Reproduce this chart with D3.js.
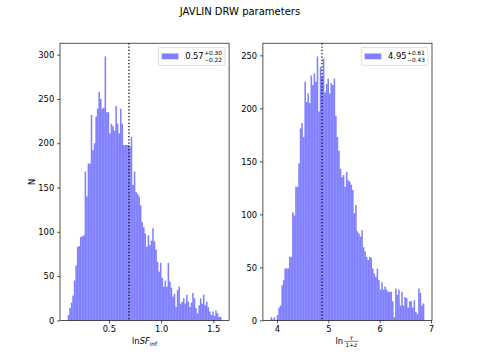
<!DOCTYPE html>
<html>
<head>
<meta charset="utf-8">
<script src="https://cdn.jsdelivr.net/npm/d3@7"></script>
<style>
  body { margin: 0; background: #fff; }
  svg { display: block; font-family: "DejaVu Sans", sans-serif; }
</style>
</head>
<body>
<div id="chart"></div>
<script>
// histogram counts, 100 bins each
const sfCounts = [6, 14, 20, 28, 45, 62, 83, 84, 94, 95,
  96, 168, 140, 177, 177, 232, 192, 200, 230, 239,
  258, 250, 239, 240, 298, 235, 235, 211, 222, 219,
  214, 242, 222, 211, 239, 222, 198, 198, 198, 198,
  196, 207, 153, 168, 145, 143, 140, 130, 111, 105,
  98, 83, 96, 85, 90, 104, 89, 80, 66, 55,
  65, 48, 38, 45, 38, 65, 44, 37, 27, 30,
  15, 34, 38, 19, 21, 25, 19, 29, 21, 15,
  20, 31, 25, 14, 8, 17, 25, 19, 29, 17,
  21, 15, 10, 6, 10, 5, 11, 8, 4, 4]
const tauCounts = [3, 1, 3, 0, 5, 12, 14, 33, 38, 49,
  49, 49, 60, 60, 102, 99, 126, 126, 148, 181,
  186, 173, 225, 206, 214, 205, 231, 222, 233, 225,
  249, 197, 239, 230, 247, 215, 223, 228, 214, 224,
  222, 228, 193, 173, 160, 143, 135, 137, 126, 140,
  132, 131, 128, 123, 101, 109, 84, 82, 79, 85,
  69, 65, 60, 57, 60, 59, 49, 44, 41, 49,
  38, 29, 36, 29, 32, 29, 27, 27, 27, 18,
  3, 30, 24, 29, 14, 27, 14, 22, 21, 12,
  18, 18, 12, 19, 8, 6, 30, 26, 14, 16]

// data range covered by the bins
const sfRange = [0.105, 1.578]
const tauRange = [3.875, 6.87]

// dotted marker lines
const sfMarker = 0.692
const tauMarker = 4.877

// legend numbers: median, +err, -err
const sfLegend = ["0.57", "+0.30", "\u22120.22"]
const tauLegend = ["4.95", "+0.61", "\u22120.43"]

const sfXTicks = [0.5, 1.0, 1.5]
const tauXTicks = [4, 5, 6, 7]
const sfYTicks = [0, 50, 100, 150, 200, 250, 300]
const tauYTicks = [0, 50, 100, 150, 200, 250]

const W = 480, H = 360
const axTop = 43.2, plotH = 277.2, plotW = 169.1
const fs = 8.33, tick = 2.9

const svg = d3.select("#chart").append("svg")
  .attr("width", W).attr("height", H)

svg.append("text")
  .attr("x", 240).attr("y", 15)
  .attr("text-anchor", "middle")
  .style("font-size", "10px")
  .text("JAVLIN DRW parameters")

function panel(left, counts, range, marker, xTicks, yTicks, xFmt, legend) {
  const g = svg.append("g").attr("transform", "translate(" + left + "," + axTop + ")")
  const pad = (range[1] - range[0]) * 0.05
  const x = d3.scaleLinear().domain([range[0] - pad, range[1] + pad]).range([0, plotW])
  const y = d3.scaleLinear().domain([0, d3.max(counts) * 1.05]).range([plotH, 0])
  const step = (range[1] - range[0]) / counts.length

  g.selectAll("rect.bar")
    .data(counts)
    .enter()
    .append("rect")
    .attr("class", "bar")
    .attr("x", (d, i) => x(range[0] + i * step))
    .attr("width", (d, i) => x(range[0] + (i + 1) * step) - x(range[0] + i * step))
    .attr("y", d => y(d))
    .attr("height", d => plotH - y(d))
    .style("fill", "#0000ff")
    .style("fill-opacity", 0.5)

  g.append("line")
    .attr("x1", x(marker)).attr("x2", x(marker))
    .attr("y1", 0).attr("y2", plotH)
    .style("stroke", "#000")
    .style("stroke-width", 1.25)
    .style("stroke-dasharray", "1.25,2.06")

  const xa = g.append("g")
    .attr("transform", "translate(0," + plotH + ")")
    .call(d3.axisBottom(x).tickValues(xTicks).tickFormat(xFmt)
      .tickSize(tick).tickPadding(tick).tickSizeOuter(0))
  const ya = g.append("g")
    .call(d3.axisLeft(y).tickValues(yTicks).tickFormat(d3.format("d"))
      .tickSize(tick).tickPadding(tick).tickSizeOuter(0))
  for (const a of [xa, ya]) {
    a.select(".domain").remove()
    a.selectAll("text").style("font-size", fs + "px").style("font-family", "DejaVu Sans")
      .attr("fill", "#000")
    a.selectAll("line").style("stroke-width", 0.67).attr("stroke", "#000")
  }

  g.append("rect")
    .attr("width", plotW).attr("height", plotH)
    .style("fill", "none").style("stroke", "#000").style("stroke-width", 0.67)

  // legend box
  const lg = g.append("g")
  const lw = 66.5, lh = 18
  const lx = plotW - 4.17 - lw, ly = 4.17
  lg.append("rect")
    .attr("x", lx).attr("y", ly).attr("width", lw).attr("height", lh)
    .attr("rx", 1.7)
    .style("fill", "#fff").style("fill-opacity", 0.8)
    .style("stroke", "#ccc").style("stroke-width", 0.67)
  lg.append("rect")
    .attr("x", lx + 3.3).attr("y", ly + lh / 2 - 2.9)
    .attr("width", 16.7).attr("height", 5.8)
    .style("fill", "#0000ff").style("fill-opacity", 0.5)
  const tx = lx + 3.3 + 16.7 + 6.7, base = ly + lh / 2 + 3
  const main = lg.append("text").attr("x", tx).attr("y", base)
    .style("font-size", fs + "px").text(legend[0])
  const mw = main.node().getComputedTextLength()
  lg.append("text").attr("x", tx + mw + 0.5).attr("y", base - 4)
    .style("font-size", "5.8px").text(legend[1])
  lg.append("text").attr("x", tx + mw + 0.5).attr("y", base + 2.6)
    .style("font-size", "5.8px").text(legend[2])

  return g
}

panel(60, sfCounts, sfRange, sfMarker, sfXTicks, sfYTicks, d3.format(".1f"), sfLegend)
panel(262.9, tauCounts, tauRange, tauMarker, tauXTicks, tauYTicks, d3.format("d"), tauLegend)

// y label
svg.append("text")
  .attr("transform", "translate(35," + (axTop + plotH / 2) + ") rotate(-90)")
  .attr("text-anchor", "middle")
  .style("font-size", fs + "px")
  .text("N")

// left x label: ln SF_inf
const xl = svg.append("text")
  .attr("x", 60 + plotW / 2).attr("y", 344)
  .attr("text-anchor", "middle")
  .style("font-size", fs + "px")
xl.append("tspan").text("ln")
xl.append("tspan").style("font-style", "italic").text("SF")
xl.append("tspan").attr("dy", 1.8).style("font-size", "5.8px").text("inf")

// right x label: ln tau/(1+z)
const cx = 262.9 + plotW / 2
const lnT = svg.append("text")
  .attr("x", cx - 12).attr("y", 344)
  .style("font-size", fs + "px")
  .text("ln")
const lnW = lnT.node().getComputedTextLength()
const fx = cx - 12 + lnW + 1.2
svg.append("text")
  .attr("x", fx + 7).attr("y", 339.5)
  .attr("text-anchor", "middle")
  .style("font-size", "5.8px").style("font-style", "italic")
  .text("\u03c4")
svg.append("line")
  .attr("x1", fx).attr("x2", fx + 14)
  .attr("y1", 341.3).attr("y2", 341.3)
  .style("stroke", "#000").style("stroke-width", 0.5)
const den = svg.append("text")
  .attr("x", fx + 7).attr("y", 346.8)
  .attr("text-anchor", "middle")
  .style("font-size", "5.8px")
den.append("tspan").text("1+")
den.append("tspan").style("font-style", "italic").text("z")
</script>
</body>
</html>
